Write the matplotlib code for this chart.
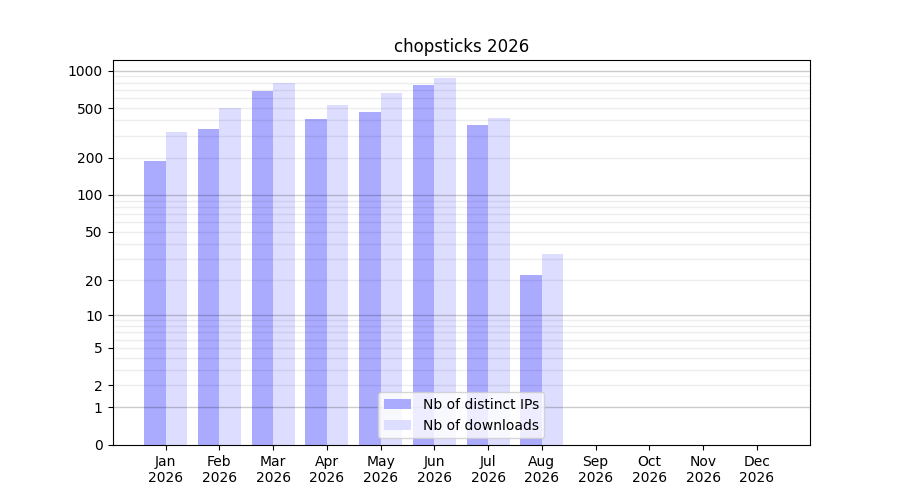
import numpy as np
import matplotlib
matplotlib.use("Agg")
import matplotlib.pyplot as plt

months = ["Jan", "Feb", "Mar", "Apr", "May", "Jun",
          "Jul", "Aug", "Sep", "Oct", "Nov", "Dec"]
year = "2026"
distinct_ips = [187, 338, 682, 407, 463, 762, 364, 22, 0, 0, 0, 0]
downloads = [320, 499, 791, 527, 657, 867, 414, 33, 0, 0, 0, 0]
ytick_values = [0, 1, 2, 5, 10, 20, 50, 100, 200, 500, 1000]
decades = [1, 10, 100, 1000]
minor_lines = [m * d for d in (1, 10, 100) for m in range(2, 10)]


def forward(y):
    return np.log10(1 + np.clip(y, 0, None))


def inverse(y):
    return 10 ** np.asarray(y) - 1


fig, ax = plt.subplots(figsize=(9, 5), dpi=100)
x = np.arange(len(months))
ax.bar(x, distinct_ips, width=-0.4, align="edge", color="#aaaaff",
       label="Nb of distinct IPs")
ax.bar(x, downloads, width=0.4, align="edge", color="#ddddff",
       label="Nb of downloads")

ax.set_yscale("function", functions=(forward, inverse))
ax.set_yticks(ytick_values)
ax.set_yticklabels([str(v) for v in ytick_values])
ax.minorticks_off()

# light lines inside each decade, darker ones on the decades
for v in minor_lines:
    ax.axhline(v, color="black", alpha=0.07, lw=1)
for v in decades:
    ax.axhline(v, color="black", alpha=0.2, lw=1)

ax.set_xticks(x)
ax.set_xticklabels([f"{m}\n{year}" for m in months])
ax.set_title("chopsticks 2026")
ax.legend(loc="lower center")

fig.savefig("out.png")
